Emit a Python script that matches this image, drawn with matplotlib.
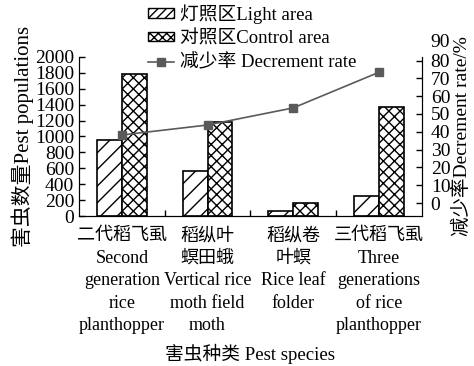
import matplotlib
matplotlib.use("Agg")
import matplotlib.pyplot as plt
import matplotlib.transforms as mtransforms
from matplotlib.patches import Patch
from matplotlib.lines import Line2D
import numpy as np

plt.rcParams["font.family"] = ["Liberation Serif", "Noto Sans CJK SC"]
plt.rcParams["font.size"] = 13
plt.rcParams["hatch.linewidth"] = 1.0

# data
species = [
    "二代稻飞虱\nSecond\ngeneration\nrice\nplanthopper",
    "稻纵叶\n螟田蛾\nVertical rice\nmoth field\nmoth",
    "稻纵卷\n叶螟\nRice leaf\nfolder",
    "三代稻飞虱\nThree\ngenerations\nof rice\nplanthopper",
]
light_area = [960, 570, 60, 255]
control_area = [1780, 1185, 160, 1370]
decrement_rate = [38.2, 43.8, 53.4, 73.4]
left_ticks = list(range(0, 2001, 200))
right_ticks = list(range(0, 91, 10))
legend_labels = ["灯照区Light area", "对照区Control area", "减少率 Decrement rate"]

fig = plt.figure(figsize=(4.74, 3.66), dpi=100)
ax = fig.add_axes([0.1667, 0.4098, 0.7230, 0.4345])

x = np.arange(len(species))
w = 0.29
ax.bar(x - w / 2, light_area, w, color="white", edgecolor="black", hatch="//", linewidth=1.2)
ax.bar(x + w / 2, control_area, w, color="white", edgecolor="black", hatch="xxx", linewidth=1.2)

ax.set_xlim(-0.5, len(species) - 0.5)
ax.set_ylim(0, 2000)
ax.set_yticks(left_ticks)
ax.set_xticks(x)
ax.set_xticklabels(species, linespacing=1.42)
ax.set_xticks(x[:-1] + 0.5, minor=True)
ax.tick_params(axis="x", which="major", length=0, pad=8)
ax.tick_params(axis="x", which="minor", direction="in", length=4, width=1)
ax.tick_params(axis="y", direction="in", length=4, width=1, pad=3.5, labelsize=14)
ax.spines["top"].set_visible(False)
ax.set_ylabel("害虫数量Pest populations", fontsize=15, labelpad=1)
ax.set_xlabel("害虫种类 Pest species", fontsize=13.5, labelpad=7)

ax2 = ax.twinx()
ax2.plot(x, decrement_rate, color="#5a5a5a", marker="s", markersize=6, linewidth=1.2)
ax2.set_ylim(-7.3, 82)
ax2.set_yticks(right_ticks[:-1])
ax2.tick_params(axis="y", direction="in", length=4, width=1, pad=6.5, labelsize=14)
ax2.spines["top"].set_visible(False)
ax2.set_ylabel("减少率Decrement rate/%", fontsize=14, labelpad=2)
# the top label (90) sits above the axis end in the original
trans = mtransforms.blended_transform_factory(ax2.transAxes, ax2.transData)
ax2.annotate(str(right_ticks[-1]), xy=(1, right_ticks[-1]), xycoords=trans,
             xytext=(6.5, 0), textcoords="offset points", va="center", ha="left",
             fontsize=14, annotation_clip=False)

handles = [
    Patch(facecolor="white", edgecolor="black", hatch="////"),
    Patch(facecolor="white", edgecolor="black", hatch="xxxx"),
    Line2D([], [], color="#5a5a5a", marker="s", markersize=6, linewidth=1.2),
]
fig.legend(handles, legend_labels, loc="upper left", bbox_to_anchor=(148 / 474, 1 - 4 / 366),
           frameon=False, fontsize=13.5, handlelength=1.4, handleheight=0.4, handletextpad=0.3,
           labelspacing=0.35, borderaxespad=0, borderpad=0)

fig.savefig("out.png", dpi=100)
